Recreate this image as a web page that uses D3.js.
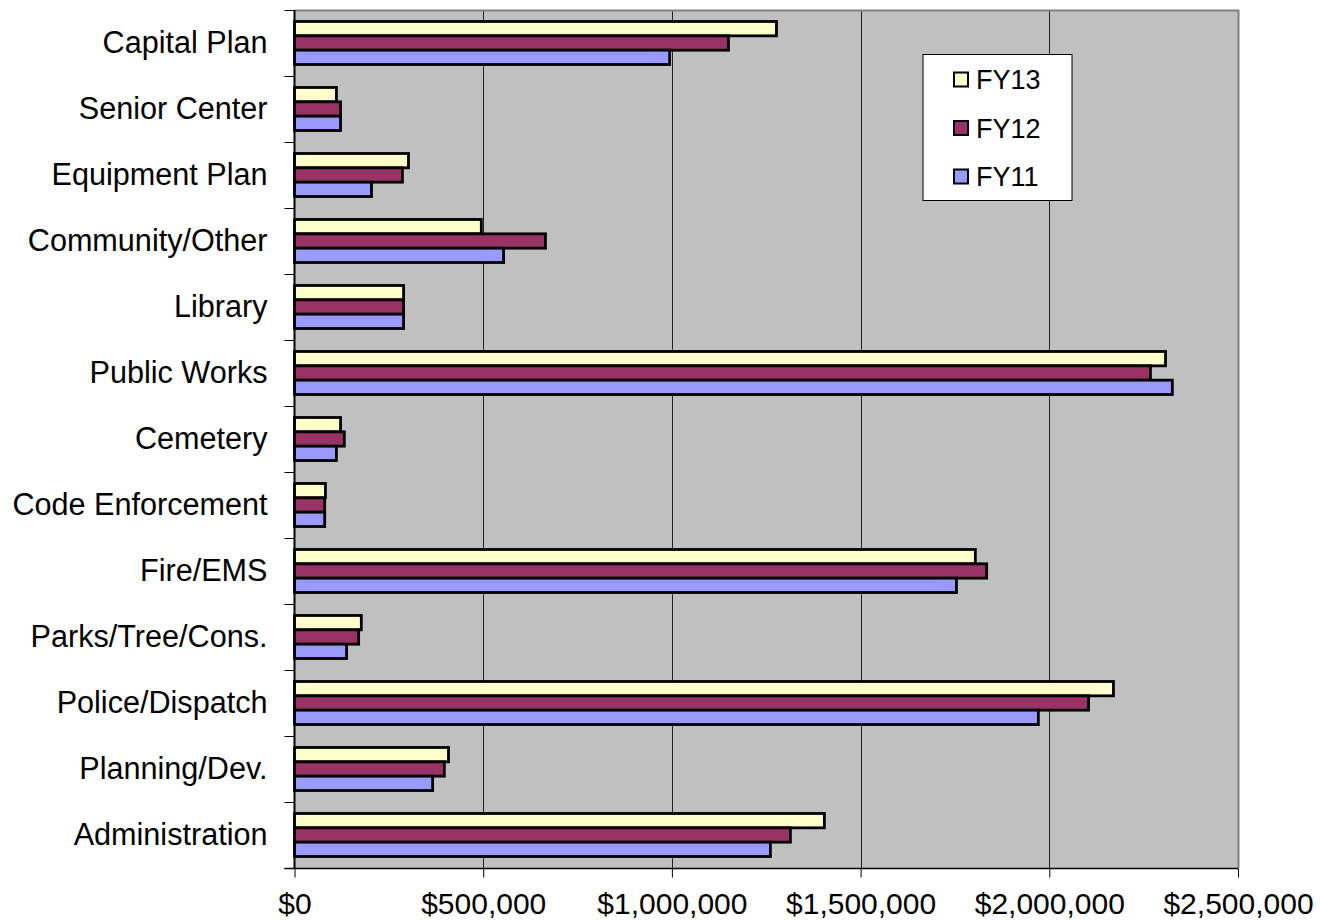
<!DOCTYPE html>
<html>
<head>
<meta charset="utf-8">
<script src="https://cdn.jsdelivr.net/npm/d3@7"></script>
<style>
  html, body { margin: 0; padding: 0; background: #fff; }
  svg { display: block; font-family: Arial, "Liberation Sans", sans-serif; }
</style>
</head>
<body>
<svg id="chart" width="1320" height="921"></svg>
<script>
const categories = ["Capital Plan", "Senior Center", "Equipment Plan", "Community/Other", "Library",
  "Public Works", "Cemetery", "Code Enforcement", "Fire/EMS", "Parks/Tree/Cons.",
  "Police/Dispatch", "Planning/Dev.", "Administration"];
const seriesNames = ["FY13", "FY12", "FY11"];
const fy13 = [1277000, 111000, 302000, 495000, 289000, 2308000, 122000, 82000, 1804000, 177000, 2170000, 408000, 1404000];
const fy12 = [1150000, 122000, 286000, 665000, 289000, 2268000, 132000, 80000, 1834000, 170000, 2104000, 397000, 1314000];
const fy11 = [ 994000, 122000, 204000, 554000, 289000, 2326000, 111000, 80000, 1754000, 138000, 1971000, 366000, 1261000];
const seriesColors = ["#FFFFCC", "#993366", "#9999FF"];
const tickValues = [0, 500000, 1000000, 1500000, 2000000, 2500000];
const tickLabels = ["$0", "$500,000", "$1,000,000", "$1,500,000", "$2,000,000", "$2,500,000"];

const seriesValues = [fy13, fy12, fy11];
const svg = d3.select("#chart");
const pLeft = 294.5, pRight = 1238, pTop = 10, pBottom = 868;

const x = d3.scaleLinear().domain([0, 2500000]).range([pLeft, pRight]);
const y = d3.scaleBand().domain(categories).range([pTop, pBottom]).padding(0);
const ySub = d3.scaleBand().domain(seriesNames).range([0, y.bandwidth()]).paddingInner(0).paddingOuter(0.8);

// plot background
svg.append("rect").attr("x", pLeft).attr("y", pTop).attr("width", pRight - pLeft).attr("height", pBottom - pTop)
  .attr("fill", "#C0C0C0");

// gridlines
svg.append("g").selectAll("line").data(tickValues.slice(1, -1)).join("line")
  .attr("x1", d => Math.round(x(d)) + 0.5).attr("x2", d => Math.round(x(d)) + 0.5)
  .attr("y1", pTop).attr("y2", pBottom)
  .attr("stroke", "#222").attr("stroke-width", 1);

// plot border top/right (gray)
svg.append("path").attr("d", `M${pLeft},${pTop + 0.5}H${pRight + 0.5}V${pBottom}`)
  .attr("fill", "none").attr("stroke", "#808080").attr("stroke-width", 2);

// bars
const groups = svg.append("g").selectAll("g").data(categories).join("g")
  .attr("transform", c => `translate(0,${y(c)})`);
groups.selectAll("rect").data((c, i) => seriesNames.map((s, j) => ({ s, v: seriesValues[j][i], j })))
  .join("rect")
  .attr("x", x(0))
  .attr("y", d => ySub(d.s))
  .attr("width", d => x(d.v) - x(0))
  .attr("height", ySub.bandwidth())
  .attr("fill", d => seriesColors[d.j])
  .attr("stroke", "#000").attr("stroke-width", 2.8);

// x axis
const xAxis = d3.axisBottom(x).tickValues(tickValues).tickFormat((d, i) => tickLabels[i]).tickSize(9).tickPadding(15);
const gx = svg.append("g").attr("transform", `translate(0,${pBottom + 0.5})`).call(xAxis);
gx.select(".domain").attr("stroke", "#000").attr("stroke-width", 1.5).attr("d", `M${pLeft - 10},0H${pRight}`);
gx.selectAll(".tick line").attr("stroke", "#000");
gx.selectAll("text").attr("font-size", 30).attr("fill", "#000")
  .attr("font-family", 'Arial, "Liberation Sans", sans-serif');

// y axis
const yAxis = d3.axisLeft(y).tickSize(0).tickPadding(27);
const gy = svg.append("g").attr("transform", `translate(${pLeft},0)`).call(yAxis);
gy.select(".domain").attr("stroke", "#000").attr("stroke-width", 2).attr("d", `M0,${pTop}V${pBottom + 1}`);
gy.selectAll("text").attr("font-size", 30.6).attr("fill", "#000")
  .attr("font-family", 'Arial, "Liberation Sans", sans-serif');
// boundary ticks
const bounds = categories.map(c => y(c)).concat([pBottom]);
svg.append("g").selectAll("line").data(bounds).join("line")
  .attr("x1", pLeft - 10).attr("x2", pLeft).attr("y1", d => Math.round(d) + 0.5).attr("y2", d => Math.round(d) + 0.5)
  .attr("stroke", "#000").attr("stroke-width", 1);

// legend
const lg = svg.append("g").attr("transform", "translate(923,54.5)");
lg.append("rect").attr("width", 149).attr("height", 146).attr("fill", "#fff")
  .attr("stroke", "#000").attr("stroke-width", 1);
const items = lg.selectAll("g").data(seriesNames).join("g")
  .attr("transform", (d, i) => `translate(0,${25 + i * 48.5})`);
items.append("rect").attr("x", 31).attr("y", -7).attr("width", 14).attr("height", 14)
  .attr("fill", (d, i) => seriesColors[i]).attr("stroke", "#000").attr("stroke-width", 2);
items.append("text").attr("x", 53).attr("y", 0).attr("dy", "0.36em")
  .attr("font-size", 27).attr("fill", "#000").text(d => d);
</script>
</body>
</html>
